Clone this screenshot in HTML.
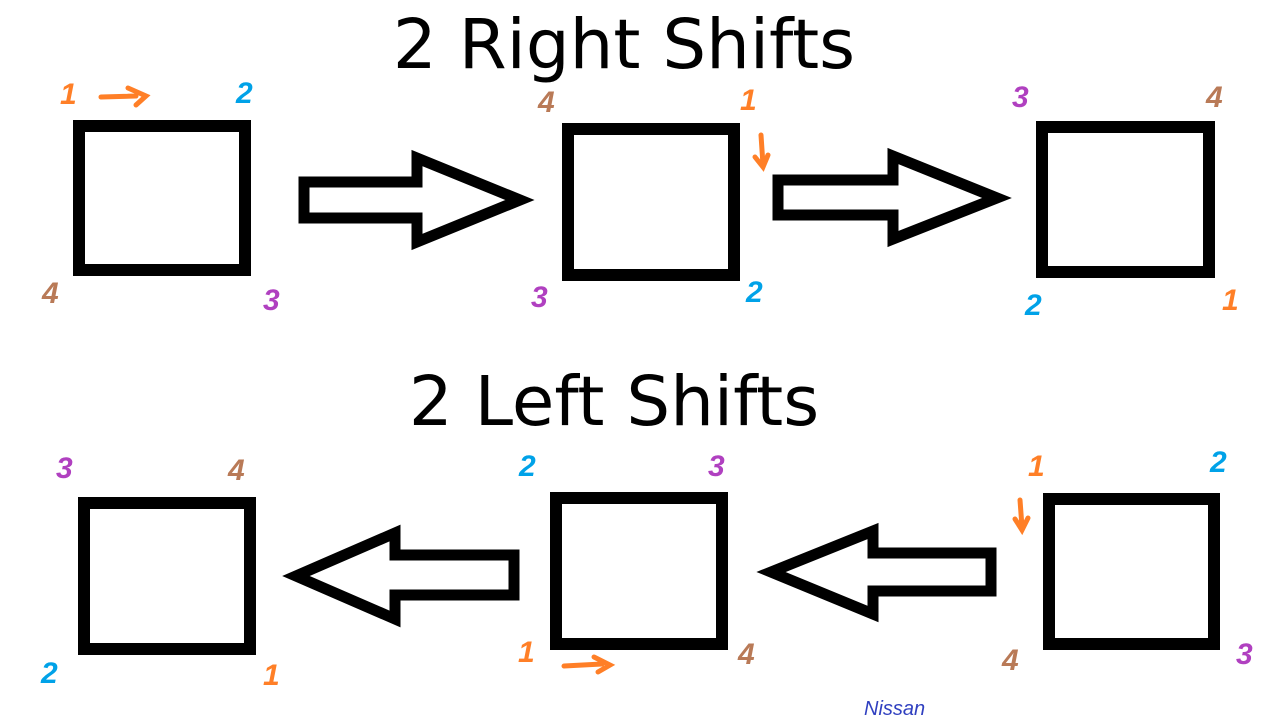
<!DOCTYPE html>
<html><head><meta charset="utf-8"><style>
html,body{margin:0;padding:0;background:#fff;width:1279px;height:724px;overflow:hidden}
svg{display:block}
.t{font-family:"DejaVu Sans","Liberation Sans",sans-serif;font-size:69px;fill:#000}
.d{font-family:"Liberation Sans",sans-serif;font-size:30px;font-weight:bold;font-style:italic}
.o{fill:#ff7f27}.b{fill:#00a2e8}.p{fill:#b040c0}.n{fill:#b97a57}
</style></head><body>
<svg width="1279" height="724" viewBox="0 0 1279 724">
<text class="t" x="624" y="68" text-anchor="middle">2 Right Shifts</text>
<text class="t" x="614" y="425" text-anchor="middle">2 Left Shifts</text>
<g fill="none" stroke="#000" stroke-width="12">
<rect x="79" y="126" width="166" height="144"/>
<rect x="568" y="129" width="166" height="146"/>
<rect x="1042" y="127" width="167" height="145"/>
<rect x="84" y="503" width="166" height="146"/>
<rect x="556" y="498" width="166" height="146"/>
<rect x="1049" y="499" width="165" height="145"/>
<g stroke-width="11" stroke-linejoin="miter">
<polygon points="304,182 417,182 417,158 520,200 417,242 417,218 304,218"/>
<polygon points="778,180 893,180 893,156 997,198 893,239 893,215 778,215"/>
<polygon points="514,555 395,555 395,533 296,576 395,619 395,595 514,595"/>
<polygon points="991,553 873,553 873,531 771,572 873,614 873,591 991,591"/>
</g>
</g>
<g fill="none" stroke-width="5" stroke-linecap="round">
<path d="M101,97 L136,96 M128,88 L146,96 L136,105" stroke="#ff7f27"/>
<path d="M761,135 L763,165 M755,157 L763,167 L768,155" stroke="#ff7f27"/>
<path d="M564,666 L602,664 M594,657 L610,665 L598,672" stroke="#ff7f27"/>
<path d="M1020,500 L1022,527 M1015,519 L1022,530 L1028,518" stroke="#ff7f27"/>
</g>
<text class="d o" x="60" y="104">1</text>
<text class="d b" x="236" y="103">2</text>
<text class="d n" x="42" y="303">4</text>
<text class="d p" x="263" y="310">3</text>
<text class="d n" x="538" y="112">4</text>
<text class="d o" x="740" y="110">1</text>
<text class="d p" x="531" y="307">3</text>
<text class="d b" x="746" y="302">2</text>
<text class="d p" x="1012" y="107">3</text>
<text class="d n" x="1206" y="107">4</text>
<text class="d b" x="1025" y="315">2</text>
<text class="d o" x="1222" y="310">1</text>
<text class="d p" x="56" y="478">3</text>
<text class="d n" x="228" y="480">4</text>
<text class="d b" x="41" y="683">2</text>
<text class="d o" x="263" y="685">1</text>
<text class="d b" x="519" y="476">2</text>
<text class="d p" x="708" y="476">3</text>
<text class="d o" x="518" y="662">1</text>
<text class="d n" x="738" y="664">4</text>
<text class="d o" x="1028" y="476">1</text>
<text class="d b" x="1210" y="472">2</text>
<text class="d n" x="1002" y="670">4</text>
<text class="d p" x="1236" y="664">3</text>
<text x="864" y="715" font-family="Liberation Sans,sans-serif" font-size="20" fill="#3040c0" font-style="italic">Nissan</text>
</svg>
</body></html>
